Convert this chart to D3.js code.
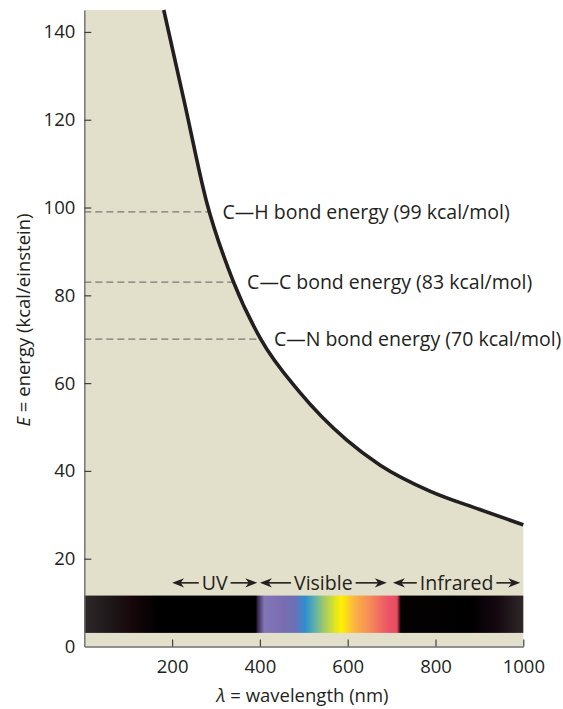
<!DOCTYPE html>
<html>
<head>
<meta charset="utf-8">
<script src="https://cdn.jsdelivr.net/npm/d3@7"></script>
<style>
  html, body { margin: 0; padding: 0; background: #ffffff; }
  svg { display: block; font-family: "Open Sans", "Noto Sans", sans-serif; }
</style>
</head>
<body>
<svg id="chart" width="563" height="709"></svg>
<script>
// ---- Data ----
const curveWavelengths = [181, 228, 278, 340, 402, 490, 598, 674, 787, 901, 1000];
const curveEnergies    = [145, 124, 101.5, 83, 70, 58, 47, 41.3, 35.4, 31.2, 27.7];

const bondLabels    = ["C\u2014H bond energy (99 kcal/mol)", "C\u2014C bond energy (83 kcal/mol)", "C\u2014N bond energy (70 kcal/mol)"];
const bondEnergies  = [99, 83, 70];
const bondCrossings = [283, 339, 400];   // wavelength where the dashed line meets the curve

const regionNames = ["UV", "Visible", "Infrared"];
const regionFrom  = [200, 400, 703];
const regionTo    = [394, 689, 993];
const regionLevel = 14.5;

const spectrumBottom = 3.1;
const spectrumTop    = 11.6;
const spectrumStops  = [0, 60, 110, 170, 390, 396, 410, 450, 480, 503, 525, 548, 585, 615, 650, 690, 712, 721, 880, 940, 1000];
const spectrumColors = ["#2e2829", "#1e1719", "#16060a", "#000000", "#000000", "#3c2d55", "#8376b8", "#7a6db0", "#6c70b6", "#2c8fcf", "#5fb0ab", "#a7cb62", "#fff200", "#fbb443", "#f58b58", "#ec5667", "#e84b60", "#050102", "#000000", "#150810", "#2e2829"];

const xTicks = [200, 400, 600, 800, 1000];
const yTicks = [0, 20, 40, 60, 80, 100, 120, 140];

// ---- Setup ----
const svg = d3.select("#chart");
const x = d3.scaleLinear().domain([0, 1000]).range([84.3, 523.3]);
const y = d3.scaleLinear().domain([0, 145]).range([646.5, 10]);
const textColor = "#231f20";
const fontSize = 18.5;
const labelSize = 19.5;

const pts = curveWavelengths.map((w, i) => [w, curveEnergies[i]]);
const line = d3.line().x(d => x(d[0])).y(d => y(d[1])).curve(d3.curveMonotoneX);
const curvePath = line(pts);

// Beige fill under / left of curve
svg.append("path")
  .attr("d", curvePath + `L${x(1000)},${y(0)}L${x(0)},${y(0)}L${x(0)},${y(145)}Z`)
  .attr("fill", "#e2dfca");

// Spectrum bar
const defs = svg.append("defs");
const grad = defs.append("linearGradient").attr("id", "spec")
  .attr("gradientUnits", "userSpaceOnUse")
  .attr("x1", x(0)).attr("x2", x(1000)).attr("y1", 0).attr("y2", 0);
spectrumStops.forEach((s, i) => {
  grad.append("stop").attr("offset", s / 1000).attr("stop-color", spectrumColors[i]);
});
svg.append("rect")
  .attr("x", x(0)).attr("width", x(1000) - x(0))
  .attr("y", y(spectrumTop)).attr("height", y(spectrumBottom) - y(spectrumTop))
  .attr("fill", "url(#spec)");

// Dashed bond lines
bondEnergies.forEach((e, i) => {
  svg.append("line")
    .attr("x1", x(0)).attr("x2", x(bondCrossings[i]))
    .attr("y1", y(e)).attr("y2", y(e))
    .attr("stroke", "#77787b").attr("stroke-width", 1.3)
    .attr("stroke-dasharray", "7,4");
  svg.append("text")
    .attr("x", x(bondCrossings[i]) + 14).attr("y", y(e)).attr("dy", "0.36em")
    .attr("font-size", labelSize).attr("fill", textColor)
    .text(bondLabels[i]);
});

// Curve
svg.append("path").attr("d", curvePath)
  .attr("fill", "none").attr("stroke", textColor).attr("stroke-width", 3.6);

// Region arrows
const ay = y(regionLevel);
function arrowHead(tipX, dir) {
  // dir = -1 points left, +1 points right
  const L = 12, H = 4.6, n = 8.5;
  return `M${tipX},${ay}L${tipX - dir * L},${ay - H}L${tipX - dir * n},${ay}L${tipX - dir * L},${ay + H}Z`;
}
regionNames.forEach((name, i) => {
  const x1 = x(regionFrom[i]), x2 = x(regionTo[i]);
  const cx = (x1 + x2) / 2;
  const t = svg.append("text")
    .attr("x", cx).attr("y", ay).attr("dy", "0.36em")
    .attr("text-anchor", "middle")
    .attr("font-size", labelSize).attr("fill", textColor)
    .text(name);
  const w = t.node().getComputedTextLength();
  const gap = 3;
  svg.append("line").attr("x1", x1 + 5).attr("x2", cx - w / 2 - gap)
    .attr("y1", ay).attr("y2", ay).attr("stroke", textColor).attr("stroke-width", 1.6);
  svg.append("line").attr("x1", cx + w / 2 + gap).attr("x2", x2 - 5)
    .attr("y1", ay).attr("y2", ay).attr("stroke", textColor).attr("stroke-width", 1.6);
  svg.append("path").attr("d", arrowHead(x1, -1)).attr("fill", textColor);
  svg.append("path").attr("d", arrowHead(x2, 1)).attr("fill", textColor);
});

// Axes
const axisColor = "#6d6e71";
const yAxis = svg.append("g").attr("transform", `translate(${x(0)},0)`)
  .call(d3.axisLeft(y).tickValues(yTicks).tickFormat(d3.format("d")).tickSizeInner(-7).tickSizeOuter(0).tickPadding(9));
const xAxis = svg.append("g").attr("transform", `translate(0,${y(0)})`)
  .call(d3.axisBottom(x).tickValues(xTicks).tickFormat(d3.format("d")).tickSizeInner(-7).tickSizeOuter(0).tickPadding(13));
[yAxis, xAxis].forEach(g => {
  g.select(".domain").attr("stroke", axisColor).attr("stroke-width", 1.4);
  g.selectAll(".tick line").attr("stroke", "#414042").attr("stroke-width", 1.2);
  g.selectAll(".tick text").attr("fill", textColor).attr("font-size", fontSize)
    .attr("font-family", "'Open Sans', sans-serif");
});
yAxis.selectAll(".tick").filter(d => d === 0).select("line").remove();

// Axis titles
const yt = svg.append("text")
  .attr("transform", `translate(30,320) rotate(-90)`)
  .attr("text-anchor", "middle")
  .attr("font-size", fontSize).attr("fill", textColor);
yt.append("tspan").attr("font-style", "italic").text("E");
yt.append("tspan").text(" = energy (kcal/einstein)");

const xt = svg.append("text")
  .attr("x", 302.5).attr("y", 702)
  .attr("text-anchor", "middle")
  .attr("font-size", fontSize).attr("fill", textColor);
xt.append("tspan").attr("font-style", "italic").text("\u03bb");
xt.append("tspan").text(" = wavelength (nm)");
</script>
</body>
</html>
